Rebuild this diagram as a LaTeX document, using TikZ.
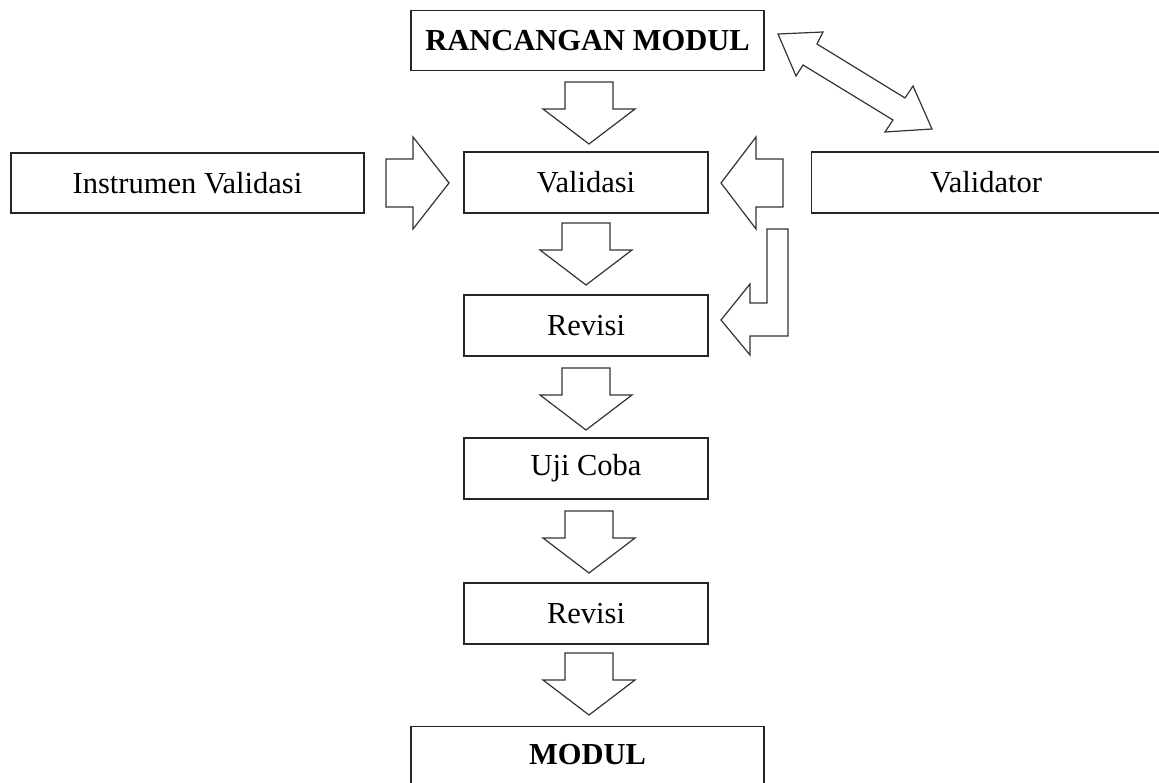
\documentclass[tikz,border=0pt]{standalone}
\usepackage{fontspec}
\setmainfont{Liberation Serif}
\newcommand\blkdown[2]{\draw[blk] ({#1-24},{#2}) -- ({#1+24},{#2}) -- ({#1+24},{#2+27}) -- ({#1+46},{#2+27}) -- ({#1},{#2+62}) -- ({#1-46},{#2+27}) -- ({#1-24},{#2+27}) -- cycle;}
\begin{document}
\begin{tikzpicture}[x=1pt,y=-1pt,
  box/.style={draw=black!85,line width=1.3pt,fill=white,inner sep=0pt,
    font=\fontsize{30.5}{36}\selectfont},
  lbl/.style={font=\fontsize{30.5}{36}\selectfont},
  blk/.style={draw=black!80,line width=1.2pt,line join=miter,fill=white}]
\useasboundingbox (0,0) rectangle (1159,783);
\clip (0,0) rectangle (1159,783);
\fill[white] (0,0) rectangle (1159,783);
% boxes
\node[box,minimum width=353pt,minimum height=60pt,font=\fontsize{30.5}{36}\selectfont\bfseries] (ranc) at (587.5,40.5) {RANCANGAN MODUL};
\node[box,minimum width=353pt,minimum height=60pt] (instr) at (187.5,183) {Instrumen Validasi};
\node[box,minimum width=244pt,minimum height=61pt] (valid) at (586,182.5) {Validasi};
\node[box,minimum width=360pt,minimum height=61pt,anchor=west] (vtor) at (811,182.5) {};
\node[lbl] (vtorlbl) at (986,182.5) {Validator};
\node[box,minimum width=244pt,minimum height=61pt] (rev1) at (586,325.5) {Revisi};
\node[box,minimum width=244pt,minimum height=61pt] (uji) at (586,468.5) {Uji Coba};
\node[box,minimum width=244pt,minimum height=61pt] (rev2) at (586,613.5) {Revisi};
\node[box,minimum width=353pt,minimum height=64pt,anchor=north] (modul) at (587.5,726) {};
\node[lbl,font=\fontsize{30.5}{36}\selectfont\bfseries] (modlbl) at (587.5,755) {MODUL};
% down block arrows
\blkdown{589}{82}
\blkdown{586}{223}
\blkdown{586}{368}
\blkdown{589}{511}
\blkdown{589}{653}
% right arrow into Validasi
\draw[blk] (386,159) -- (413,159) -- (413,137) -- (449,183) -- (413,229) -- (413,207) -- (386,207) -- cycle;
% left arrow from Validator
\draw[blk] (783,159) -- (756,159) -- (756,137) -- (721,183) -- (756,229) -- (756,207) -- (783,207) -- cycle;
% bent arrow into Revisi
\draw[blk] (721,320) -- (750,284) -- (750,303) -- (767,303) -- (767,229) -- (788,229) -- (788,336) -- (750,336) -- (750,355) -- cycle;
% double arrow
\draw[blk] (778,34) -- (823,32) -- (817,44) -- (905,98) -- (913,86) -- (932,129) -- (885,132) -- (893,120) -- (803,65) -- (796,76) -- cycle;
\end{tikzpicture}
\end{document}
